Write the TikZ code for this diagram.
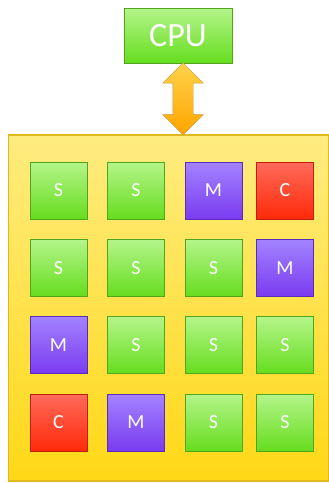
\documentclass[tikz,border=0pt]{standalone}
\usepackage{fontspec}
\setmainfont{Carlito}
\usetikzlibrary{positioning,shapes.arrows}

\definecolor{greenTop}{HTML}{B4F58A}
\definecolor{greenBot}{HTML}{66DD1E}
\definecolor{greenEdge}{HTML}{4FA61C}
\definecolor{violetTop}{HTML}{A383FF}
\definecolor{violetBot}{HTML}{7A3BF0}
\definecolor{violetEdge}{HTML}{5A2AB8}
\definecolor{redTop}{HTML}{FF6A5A}
\definecolor{redBot}{HTML}{FF2A0A}
\definecolor{redEdge}{HTML}{C01E08}
\definecolor{chipTop}{HTML}{FFEC80}
\definecolor{chipBot}{HTML}{FFD816}
\definecolor{chipEdge}{HTML}{E0B820}
\definecolor{arrowTop}{HTML}{FFD24A}
\definecolor{arrowBot}{HTML}{FFA500}

\begin{document}
\begin{tikzpicture}[
    x=1pt, y=-1pt,
    chip/.style={rectangle, draw=chipEdge, line width=1.2pt,
        top color=chipTop, bottom color=chipBot,
        minimum width=320pt, minimum height=346pt},
    cpubox/.style={rectangle, draw=greenEdge, line width=0.6pt,
        top color=greenTop, bottom color=greenBot,
        minimum width=108pt, minimum height=55pt,
        text=white, font=\fontsize{34}{40}\selectfont},
    core/.style={rectangle, line width=0.6pt, minimum size=57pt,
        text=white, font=\fontsize{20}{24}\selectfont},
    S/.style={core, draw=greenEdge, top color=greenTop, bottom color=greenBot},
    M/.style={core, draw=violetEdge, top color=violetTop, bottom color=violetBot},
    C/.style={core, draw=redEdge, top color=redTop, bottom color=redBot},
    bus/.style={double arrow, draw=arrowBot!60!gray, line width=0.4pt,
        top color=arrowTop, bottom color=arrowBot,
        shape border rotate=90, inner xsep=10pt, inner ysep=0pt,
        double arrow head extend=10pt}
]
    \useasboundingbox (0,0) rectangle (329,483);

    \node[cpubox] (cpu) at (178,35.5) {CPU};
    \node[chip] (chip) at (168.5,308) {};

    % cores, row by row
    \foreach \row/\y in {1/190.5, 2/268, 3/345, 4/422.5} {
        \foreach \col/\x in {1/58.5, 2/136, 3/213.5, 4/285} {
            \coordinate (pos-\row-\col) at (\x,\y);
        }
    }
    \foreach \kind [count=\i from 0] in {S,S,M,C, S,S,S,M, M,S,S,S, C,M,S,S} {
        \pgfmathtruncatemacro{\row}{int(\i/4)+1}
        \pgfmathtruncatemacro{\col}{mod(\i,4)+1}
        \node[\kind] (core-\row-\col) at (pos-\row-\col) {\kind};
    }

    % link between cpu and chip
    \coordinate (buscol) at (183,0);
    \path (cpu.south) -- (chip.north)
        coordinate[pos=0.5] (busmid);
    \node[bus, minimum height=72pt] (link) at (busmid -| buscol) {};
\end{tikzpicture}
\end{document}
